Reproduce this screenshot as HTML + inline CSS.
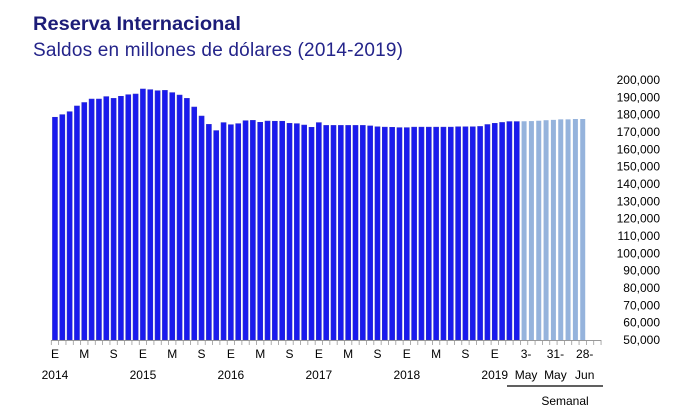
<!DOCTYPE html>
<html><head><meta charset="utf-8"><style>
body{margin:0;background:#fff;}
svg{display:block;font-family:"Liberation Sans",sans-serif;}
</style></head><body>
<svg id="chart" width="700" height="419">
<text x="33" y="30" font-size="19" font-weight="bold" fill="#1c1c78" textLength="208" lengthAdjust="spacingAndGlyphs">Reserva Internacional</text>
<text x="33" y="56" font-size="19" fill="#24248a" textLength="370">Saldos en millones de dólares (2014-2019)</text>
<g id="bars"></g><g id="yaxis"></g><g id="xaxis"></g>
<line x1="507" y1="386" x2="603" y2="386" stroke="#000" stroke-width="1.2"/>
<text x="565" y="405" font-size="12" text-anchor="middle" fill="#000">Semanal</text>
</svg>
<script>
const monthlyValues=[178.5,180,181.7,185,187,189,189,190.4,189.4,190.6,191.5,191.9,194.8,194.4,193.8,194,192.7,191.3,189.4,184.4,179.2,174.4,170.8,175.4,174.2,174.8,176.5,176.7,175.6,176.3,176.2,176.2,175,174.8,174,172.7,175.4,173.8,173.8,173.8,173.8,173.8,173.8,173.5,173,172.8,172.7,172.5,172.5,172.8,172.8,172.8,172.8,172.8,172.8,173,173,173,173.2,174.3,175,175.5,176,176];
const weeklyValues=[176.2,176.3,176.5,176.8,177,177.3,177.3,177.5,177.5];
const yTicks=[50,60,70,80,90,100,110,120,130,140,150,160,170,180,190,200];
const monthLabels=["E","M","S","E","M","S","E","M","S","E","M","S","E","M","S","E"];
const yearLabels=["2014","2015","2016","2017","2018","2019"];
const weekLabels=[["3-","May"],["31-","May"],["28-","Jun"]];
const NS="http://www.w3.org/2000/svg";
const x0=51.3, slot=7.33, totalSlots=75;
const yScale=v=>340-(v-50)*(260/150);
const xCenter=i=>x0+slot*(i+0.5);
function mk(tag,attrs,parent){const e=document.createElementNS(NS,tag);for(const k in attrs)e.setAttribute(k,attrs[k]);parent.appendChild(e);return e;}
const bars=document.getElementById('bars'),ya=document.getElementById('yaxis'),xa=document.getElementById('xaxis');
monthlyValues.forEach((v,i)=>{
 const r=mk('rect',{x:xCenter(i)-2.5,y:yScale(v),width:5,height:340-yScale(v),fill:'#1a1aee',stroke:'#2a2ad0','stroke-width':0.6},bars);
 
 
});
weeklyValues.forEach((v,j)=>{
 const i=monthlyValues.length+j;
 const r=mk('rect',{x:xCenter(i)-2.5,y:yScale(v),width:5,height:340-yScale(v),fill:'#95b3dc'},bars);
 
 
});
yTicks.forEach(t=>{
 const e=mk('text',{x:660,y:yScale(t)+4,'font-size':12,'text-anchor':'end',fill:'#000'},ya);
 e.textContent=t+",000";
 
 
});
const ax=mk('line',{x1:x0,y1:340.5,x2:x0+slot*totalSlots,y2:340.5,stroke:'#999','stroke-width':1},xa);


for(let i=0;i<=totalSlots;i++){
 const l=mk('line',{x1:x0+slot*i,y1:340,x2:x0+slot*i,y2:345,stroke:'#999','stroke-width':0.8},xa);
 
 
}
monthLabels.forEach((m,k)=>{
 const e=mk('text',{x:xCenter(k*4),y:358,'font-size':12,'text-anchor':'middle',fill:'#000'},xa);
 e.textContent=m;
 
 
});
yearLabels.forEach((y,k)=>{
 const e=mk('text',{x:xCenter(k*12),y:379,'font-size':12,'text-anchor':'middle',fill:'#000'},xa);
 e.textContent=y;
 
 
});
weekLabels.forEach((w,k)=>{
 const i=monthlyValues.length+k*4;
 const cx=xCenter(i)+2;
 const a=mk('text',{x:cx,y:358,'font-size':12,'text-anchor':'middle',fill:'#000'},xa);
 a.textContent=w[0];
 
 
 const b=mk('text',{x:cx,y:379,'font-size':12,'text-anchor':'middle',fill:'#000'},xa);
 b.textContent=w[1];
 
 
});
</script>
</body></html>
